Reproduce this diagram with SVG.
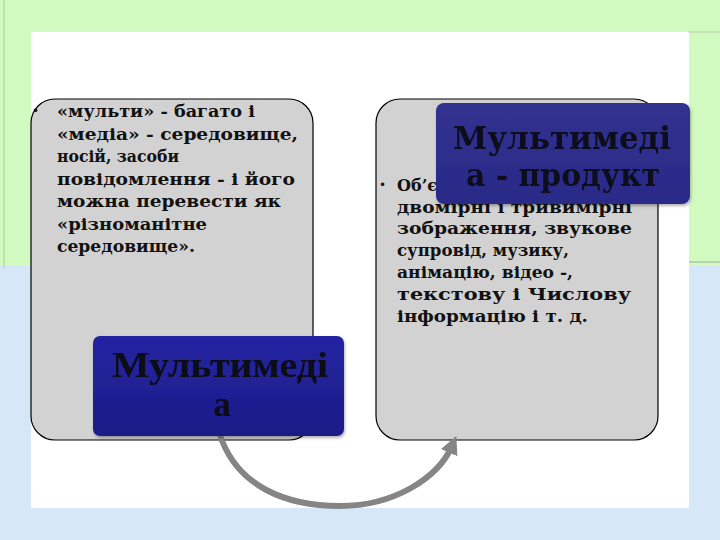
<svg xmlns="http://www.w3.org/2000/svg" width="720" height="540" viewBox="0 0 720 540">
<defs>
<style>
.card{fill:#d2d2d2;stroke:#000;stroke-width:1.2}
.body{font-family:"DejaVu Serif","Liberation Serif",serif;font-weight:bold;font-size:16.5px;fill:#111}
.bullet{font-family:"DejaVu Sans",sans-serif;font-size:12px;fill:#111}
.title{font-family:"DejaVu Serif","Liberation Serif",serif;font-weight:bold;fill:#0e0e1e}
.title2{font-family:"Liberation Serif","DejaVu Serif",serif;font-weight:bold;fill:#0a0a14}
.conn{fill:none;stroke:#858585;stroke-width:6}
</style>
<linearGradient id="gBlue" x1="0" y1="0" x2="0" y2="1">
<stop offset="0" stop-color="#2424a2"/>
<stop offset="1" stop-color="#1c1c88"/>
</linearGradient>
<linearGradient id="gBlue2" x1="0" y1="0" x2="0" y2="1">
<stop offset="0" stop-color="#31318f"/>
<stop offset="1" stop-color="#2a2a88"/>
</linearGradient>
<marker id="ah" markerWidth="3" markerHeight="3" refX="1.2" refY="1.5" orient="auto" markerUnits="strokeWidth">
<path d="M0,0 L3,1.5 L0,3 Z" fill="#858585"/>
</marker>
<filter id="sh" x="-10%" y="-10%" width="120%" height="130%">
<feDropShadow dx="1" dy="2" stdDeviation="1.5" flood-color="#000" flood-opacity="0.3"/>
</filter>
</defs>

<!-- background -->
<rect x="0" y="0" width="720" height="540" fill="#d1fac0"/>
<rect x="0" y="266" width="720" height="274" fill="#d6e8f8"/>
<line x1="4" y1="0" x2="4" y2="268" stroke="#a8c8a0" stroke-width="1"/>
<line x1="689" y1="32" x2="720" y2="32" stroke="#b8c8b0" stroke-width="1"/>
<line x1="689" y1="262" x2="720" y2="262" stroke="#a0a8a0" stroke-width="1"/>
<rect x="31" y="32" width="658" height="476" fill="#ffffff"/>

<g id="node-left">
<rect class="card" x="31" y="99" width="282" height="341" rx="24" ry="24"/>
<text class="bullet" x="32" y="115">•</text>
<text class="body" x="57" y="117" textLength="198" lengthAdjust="spacingAndGlyphs">«мульти» -  багато  і</text>
<text class="body" x="57" y="139.5" textLength="241" lengthAdjust="spacingAndGlyphs">«медіа» -  середовище,</text>
<text class="body" x="57" y="162" textLength="122" lengthAdjust="spacingAndGlyphs">носій, засоби</text>
<text class="body" x="57" y="184.5" textLength="238" lengthAdjust="spacingAndGlyphs">повідомлення  -  і  його</text>
<text class="body" x="57" y="207" textLength="224" lengthAdjust="spacingAndGlyphs">можна  перевести  як</text>
<text class="body" x="57" y="229.5" textLength="150" lengthAdjust="spacingAndGlyphs">«різноманітне</text>
<text class="body" x="57" y="252" textLength="138" lengthAdjust="spacingAndGlyphs">середовище».</text>
</g>

<g id="node-right">
<rect class="card" x="376" y="99" width="282" height="341" rx="24" ry="24"/>
<text class="bullet" x="379" y="189">•</text>
<text class="body" x="397" y="191" textLength="40" lengthAdjust="spacingAndGlyphs">Об’є</text>
<text class="body" x="397" y="212.5" textLength="235" lengthAdjust="spacingAndGlyphs">двомірні  і  тривимірні</text>
<text class="body" x="397" y="234" textLength="235" lengthAdjust="spacingAndGlyphs">зображення, звукове</text>
<text class="body" x="397" y="256" textLength="172" lengthAdjust="spacingAndGlyphs">супровід, музику,</text>
<text class="body" x="397" y="278" textLength="176" lengthAdjust="spacingAndGlyphs">анімацію, відео -,</text>
<text class="body" x="397" y="300" textLength="234" lengthAdjust="spacingAndGlyphs">текстову  і  Числову</text>
<text class="body" x="397" y="321.5" textLength="191" lengthAdjust="spacingAndGlyphs">інформацію  і  т. д.</text>
</g>

<g id="connectors">
<path class="conn" d="M219,432 C236,488 288,506 340,506 C394,506 438,478 452,446" marker-end="url(#ah)"/>
</g>

<g id="node-multimedia" filter="url(#sh)">
<rect x="93" y="336" width="251" height="100" rx="7" ry="7" fill="url(#gBlue)"/>
<text class="title2" x="220" y="377" font-size="35" text-anchor="middle" textLength="216" lengthAdjust="spacingAndGlyphs">Мультимеді</text>
<text class="title2" x="222" y="416" font-size="35" text-anchor="middle">а</text>
</g>

<g id="node-product" filter="url(#sh)">
<rect x="436" y="103" width="254" height="101" rx="8" ry="8" fill="url(#gBlue2)"/>
<text class="title" x="562" y="148.5" font-size="32" text-anchor="middle" textLength="218" lengthAdjust="spacingAndGlyphs">Мультимеді</text>
<text class="title" x="563" y="186" font-size="32" text-anchor="middle" textLength="194" lengthAdjust="spacingAndGlyphs">а - продукт</text>
</g>
</svg>
